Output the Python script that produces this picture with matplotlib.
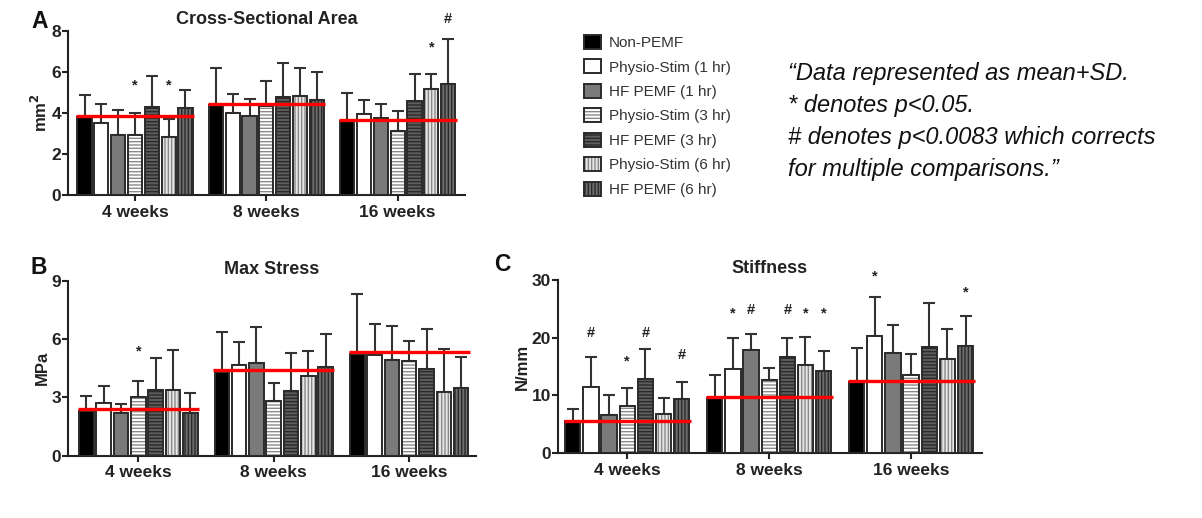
import numpy as np
import matplotlib.pyplot as plt
from matplotlib.patches import Patch
from matplotlib.legend_handler import HandlerTuple

# Set fonts
plt.rcParams['font.family'] = ['Liberation Sans', 'DejaVu Sans']

# Data
groups = ['4 weeks', '8 weeks', '16 weeks']
series = ['Non-PEMF', 'Physio-Stim (1 hr)', 'HF PEMF (1 hr)', 'Physio-Stim (3 hr)',
          'HF PEMF (3 hr)', 'Physio-Stim (6 hr)', 'HF PEMF (6 hr)']

# Cross-sectional area (mm^2), rows = series, cols = groups
csa_mean = [[3.80, 4.37, 3.60],
            [3.52, 4.00, 3.93],
            [2.92, 3.85, 3.75],
            [2.92, 4.32, 3.14],
            [4.30, 4.78, 4.58],
            [2.84, 4.81, 5.19],
            [4.25, 4.65, 5.40]]
csa_sd = [[1.07, 1.83, 1.38],
          [0.91, 0.94, 0.69],
          [1.22, 0.85, 0.70],
          [1.06, 1.23, 0.98],
          [1.50, 1.68, 1.31],
          [0.86, 1.39, 0.69],
          [0.86, 1.35, 2.20]]
csa_ctrl = [3.85, 4.45, 3.67]
csa_marks = [(0, 3, '*', 5.36), (0, 5, '*', 5.36), (2, 5, '*', 7.2), (2, 6, '#', 8.6)]

# Max stress (MPa)
stress_mean = [[2.30, 4.32, 5.23],
               [2.69, 4.67, 5.18],
               [2.21, 4.75, 4.92],
               [3.04, 2.81, 4.89],
               [3.38, 3.34, 4.46],
               [3.38, 4.12, 3.29],
               [2.18, 4.55, 3.50]]
stress_sd = [[0.77, 2.03, 3.07],
             [0.91, 1.16, 1.60],
             [0.45, 1.89, 1.75],
             [0.82, 0.95, 1.03],
             [1.62, 1.96, 2.04],
             [2.06, 1.27, 2.18],
             [1.06, 1.71, 1.59]]
stress_ctrl = [2.38, 4.41, 5.32]
stress_marks = [(0, 3, '*', 5.35)]

# Stiffness (N/mm)
stiff_mean = [[5.5, 9.5, 12.3],
              [11.4, 14.6, 20.2],
              [6.6, 17.9, 17.4],
              [8.2, 12.6, 13.5],
              [12.8, 16.6, 18.4],
              [6.7, 15.3, 16.3],
              [9.4, 14.3, 18.6]]
stiff_sd = [[2.2, 4.1, 5.9],
            [5.3, 5.3, 6.8],
            [3.4, 2.7, 4.7],
            [3.1, 2.2, 3.7],
            [5.2, 3.4, 7.5],
            [2.8, 4.8, 5.1],
            [2.9, 3.3, 5.2]]
stiff_ctrl = [5.55, 9.8, 12.5]
stiff_marks = [(0, 1, '#', 20.8), (0, 3, '*', 15.9), (0, 4, '#', 20.8), (0, 6, '#', 16.9),
               (1, 1, '*', 24.1), (1, 2, '#', 24.8), (1, 4, '#', 24.8), (1, 5, '*', 24.1),
               (1, 6, '*', 24.1), (2, 1, '*', 30.6), (2, 6, '*', 27.8)]

# Bar styles: face, hatch, hatch colour
faces = ['black', 'white', '#7a7a7a', 'white', '#5e5e5e', '#e6e6e6', '#6e6e6e']
hatches = [None, None, None, '-----', '-----', '|||||', '|||||']
hatch_cols = ['black', 'white', '#7a7a7a', '#8a8a8a', '#2a2a2a', '#8a8a8a', '#2a2a2a']
edge = '#2b2b2b'

pitch = 0.128
width = 0.108


def draw_panel(ax, mean, sd, ctrl, marks, ticks, ylabel, title, xlim):
    mean = np.array(mean)
    sd = np.array(sd)
    x = np.arange(len(groups))
    for i in range(len(series)):
        xs = x + (i - 3) * pitch
        ax.bar(xs, mean[i], width, color=faces[i], hatch=hatches[i],
               edgecolor=hatch_cols[i], linewidth=0, zorder=2)
        ax.bar(xs, mean[i], width, color='none', edgecolor=edge, linewidth=1.4, zorder=3)
        ax.errorbar(xs, mean[i], yerr=[np.zeros(3), sd[i]], fmt='none',
                    ecolor='#333333', elinewidth=1.5, capsize=4, capthick=1.5, zorder=1)
    for g in range(len(groups)):
        ax.plot([g - 3.5 * pitch, g + 3.5 * pitch], [ctrl[g], ctrl[g]],
                color='red', lw=2.4, zorder=4, solid_capstyle='butt')
    for g, i, sym, y in marks:
        ax.text(g + (i - 3) * pitch, y, sym, ha='center', va='center',
                fontsize=10.5, fontweight='bold', color='#222222', clip_on=False)
    ax.set_xlim(xlim)
    ax.set_ylim(0, ticks[-1])
    ax.set_yticks(ticks)
    ax.set_xticks(x)
    ax.set_xticklabels(groups)
    for s in ['top', 'right']:
        ax.spines[s].set_visible(False)
    for s in ['left', 'bottom']:
        ax.spines[s].set_linewidth(1.5)
        ax.spines[s].set_color('#222222')
    ax.tick_params(axis='y', length=4, width=1.5, labelsize=12.5, color='#222222', pad=1)
    ax.tick_params(axis='x', length=4, width=1.5, labelsize=12.5, color='#222222', pad=3)
    for lab in ax.get_xticklabels() + ax.get_yticklabels():
        lab.set_fontweight('bold')
        lab.set_color('#222222')
    ax.set_ylabel(ylabel, fontsize=12, fontweight='bold', labelpad=1, color='#222222')
    ax.set_title(title, fontsize=13, fontweight='bold', pad=5, color='#222222')


fig = plt.figure(figsize=(12.02, 5.18), dpi=100)
axA = fig.add_axes([0.0566, 0.6236, 0.330, 0.3166])
axB = fig.add_axes([0.0566, 0.1203, 0.339, 0.338])
axC = fig.add_axes([0.464, 0.125, 0.353, 0.335])

draw_panel(axA, csa_mean, csa_sd, csa_ctrl, csa_marks, [0, 2, 4, 6, 8],
           'mm$\\mathbf{^2}$', 'Cross-Sectional Area', (-0.51, 2.51))
draw_panel(axB, stress_mean, stress_sd, stress_ctrl, stress_marks, [0, 3, 6, 9],
           'MPa', 'Max Stress', (-0.52, 2.49))
draw_panel(axC, stiff_mean, stiff_sd, stiff_ctrl, stiff_marks, [0, 10, 20, 30],
           'N/mm', 'Stiffness', (-0.49, 2.5))

# Panel letters
for letter, px, py in [('A', 31, 28), ('B', 31, 274), ('C', 494, 271)]:
    fig.text(px / 1202, 1 - py / 518, letter, fontsize=16.5, fontweight='bold',
             ha='left', va='baseline', color='#111111')

# Legend
handles = []
for i in range(len(series)):
    h1 = Patch(facecolor=faces[i], hatch=hatches[i], edgecolor=hatch_cols[i], linewidth=0)
    h2 = Patch(facecolor='none', edgecolor=edge, linewidth=1.4)
    handles.append((h1, h2))
fig.legend(handles, series, loc='upper left', bbox_to_anchor=(570 / 1202, 1 - 21 / 518),
           frameon=False, handler_map={tuple: HandlerTuple(ndivide=1, pad=0)},
           prop={'size': 11}, handlelength=1.15, handleheight=1.05, handletextpad=0.5,
           labelspacing=0.6, labelcolor='#333333')

note = ('\u201cData represented as mean+SD.\n'
        '* denotes p<0.05.\n'
        '# denotes p<0.0083 which corrects\n'
        'for multiple comparisons.\u201d')
fig.text(788 / 1202, 1 - 62 / 518, note, fontsize=17, fontstyle='italic',
         ha='left', va='top', linespacing=1.5, color='#111111')

fig.savefig('out.png', dpi=100)
